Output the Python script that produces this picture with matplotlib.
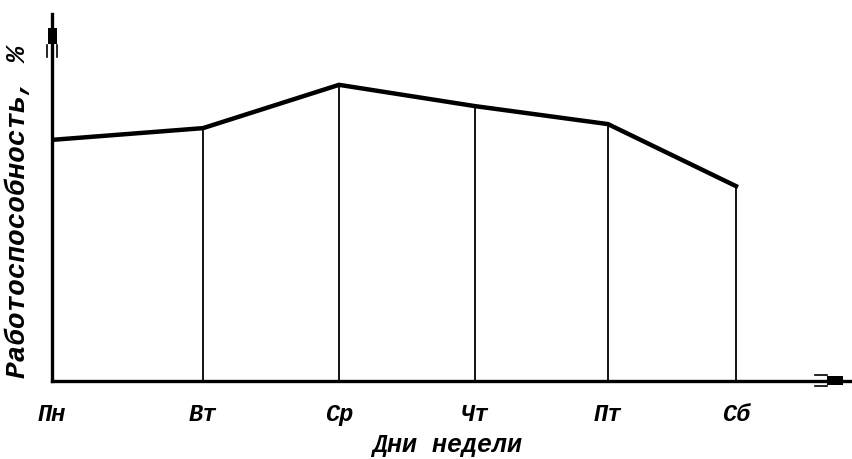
import matplotlib
matplotlib.use("Agg")
import matplotlib.pyplot as plt
from matplotlib.patches import Rectangle

# ---- data ----
days = ["Пн", "Вт", "Ср", "Чт", "Пт", "Сб"]
performance = [65.7, 68.9, 80.7, 74.9, 70.0, 53.1]
day_pos = [0.0, 1.104, 2.098, 3.092, 4.064, 5.0]      # horizontal layout of days
ylabel = "Работоспособность, %"
xlabel = "Дни недели"

W, H = 853, 460
fig = plt.figure(figsize=(W / 100, H / 100), dpi=100)
fig.patch.set_facecolor("white")

def fx(x):
    return x / W

def fy(y):
    return 1 - y / H

ax = fig.add_axes([fx(52), fy(382), fx(853) - fx(52), fy(15) - fy(382)])
ax.set_xlim(0, (853 - 52) / 136.8)
ax.set_ylim(0, 100)

font = dict(family="Liberation Mono", weight="bold", style="italic")

# vertical drop lines
for x, v in zip(day_pos[1:], performance[1:]):
    ax.plot([x, x], [0, v], color="black", lw=1.3, solid_capstyle="butt")
# performance curve
ax.plot(day_pos, performance, color="black", lw=3.2, solid_joinstyle="miter")

for s in ["top", "right"]:
    ax.spines[s].set_visible(False)
for s in ["left", "bottom"]:
    ax.spines[s].set_linewidth(2.4)
ax.set_yticks([])
ax.set_xticks(day_pos)
ax.set_xticklabels(days, fontdict=dict(size=17, **font))
ax.tick_params(axis="x", length=0, pad=15)
ax.set_facecolor("white")

fig.text(fx(447), fy(445), xlabel, ha="center", va="center", size=18, **font)
fig.text(fx(18), fy(212), ylabel, ha="center", va="center", rotation=90,
         size=20, **font)

# arrow decorations (figure-pixel overlay)
ov = fig.add_axes([0, 0, 1, 1], zorder=5)
ov.set_xlim(0, W)
ov.set_ylim(H, 0)
ov.axis("off")
ov.patch.set_alpha(0)
# y arrow
ov.add_patch(Rectangle((48.5, 29), 8.5, 16, color="black", lw=0))
ov.plot([47.5, 47.5], [46, 58], color="black", lw=1.2)
ov.plot([57.5, 57.5], [46, 58], color="black", lw=1.2)
# x arrow
ov.add_patch(Rectangle((827, 377), 16, 9, color="black", lw=0))
ov.plot([815, 827], [376, 376], color="black", lw=1.2)
ov.plot([815, 827], [387, 387], color="black", lw=1.2)

fig.savefig("out.png", dpi=100, facecolor="white")
